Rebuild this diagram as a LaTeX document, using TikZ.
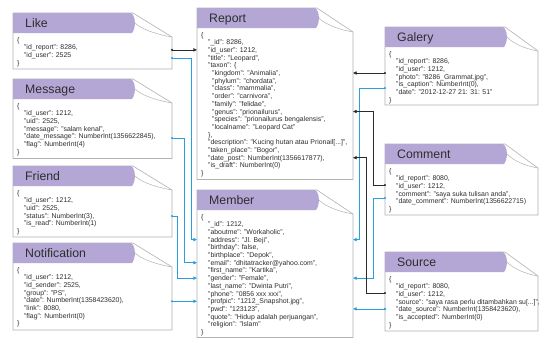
\documentclass[tikz,border=0pt]{standalone}
\usepackage{fontspec}
\setmainfont{Liberation Sans}
\usetikzlibrary{arrows.meta}
\definecolor{hdr}{HTML}{B4A7D6}
\definecolor{bord}{HTML}{B2B2B2}
\definecolor{lnk}{HTML}{2A9FDE}
\definecolor{blk}{HTML}{2B2B2B}
\definecolor{txt}{HTML}{2E2E2E}
\newcommand{\indA}{\hspace*{7pt}}
\newcommand{\indB}{\hspace*{11pt}}
% #1 name, #2 x, #3 top, #4 width, #5 bottom, #6 title, #7 body
\newcommand{\jbox}[7]{%
  \path[draw=bord, fill=white, line width=0.6pt] (#2,#3) -- ({#2+120},#3) -- ({#2+#4},{#3+24}) -- ({#2+#4},#5) -- (#2,#5) -- cycle;
  \path[fill=hdr] (#2,{#3+20}) -- (#2,#3) -- ({#2+118},#3) .. controls ({#2+123},{#3+3}) and ({#2+123},{#3+15}) .. ({#2+119},{#3+20}) -- cycle;
  \draw[bord, line width=0.5pt] ({#2+121},{#3+9}) .. controls ({#2+128},{#3+17}) and ({#2+#4-12},{#3+22}) .. ({#2+#4},{#3+24});
  \node[boxtitle] (#1-t) at ({#2+12},{#3+14.5}) {#6};
  \node[boxbody] (#1-b) at ({#2+4},{#3+23.8}) {#7};
}
\tikzset{
  boxtitle/.style={anchor=base west, inner sep=0pt, text=txt, font=\fontsize{12.3}{14}\selectfont},
  boxbody/.style={anchor=north west, inner sep=0pt, align=left, text=txt, font=\fontsize{6.9}{7.7}\selectfont},
  bl/.style={draw=lnk, line width=0.7pt},
  kl/.style={draw=blk, line width=0.7pt},
  arr/.style={-{Triangle[length=3.6pt,width=3.2pt]}},
}
\begin{document}
\begin{tikzpicture}[x=1pt,y=-1pt]
\useasboundingbox (0,0) rectangle (540,338);
\fill[white] (0,0) rectangle (540,338);

% left column
\jbox{like}{13}{13}{159}{69}{Like}{\{\\
\indA"id\_report": 8286,\\
\indA"id\_user": 2525\\
\}}
\jbox{msg}{13}{79}{159}{158.5}{Message}{\{\\
\indA"id\_user": 1212,\\
\indA"uid": 2525,\\
\indA"message": "salam kenal",\\
\indA"date\_message": NumberInt(1356622845),\\
\indA"flag": NumberInt(4)\\
\}}
\jbox{fr}{13}{166}{159}{237}{Friend}{\{\\
\indA"id\_user": 1212,\\
\indA"uid": 2525,\\
\indA"status": NumberInt(3),\\
\indA"is\_read": NumberInt(1)\\
\}}
\jbox{not}{13}{243}{159}{330}{Notification}{\{\\
\indA"id\_user": 1212,\\
\indA"id\_sender": 2525,\\
\indA"group": "PS",\\
\indA"date": NumberInt(1358423620),\\
\indA"link": 8080,\\
\indA"flag": NumberInt(0)\\
\}}

% middle column
\jbox{rep}{197}{8}{156}{179.5}{Report}{\{\\
\indA"\_id": 8286,\\
\indA"id\_user": 1212,\\
\indA"title": "Leopard",\\
\indA"taxon": \{\\
\indB"kingdom": "Animalia",\\
\indB"phylum": "chordata",\\
\indB"class": "mammalia",\\
\indB"order": "carnivora",\\
\indB"family": "felidae",\\
\indB"genus": "prionailurus",\\
\indB"species": "prionailurus bengalensis",\\
\indB"localname": "Leopard Cat"\\
\indA\},\\
\indA"description": "Kucing hutan atau Prionail[...]",\\
\indA"taken\_place": "Bogor",\\
\indA"date\_post": NumberInt(1356617877),\\
\indA"is\_draft": NumberInt(0)\\
\}}
\jbox{mem}{197}{190}{156}{337.5}{Member}{\{\\
\indA"\_id": 1212,\\
\indA"aboutme": "Workaholic",\\
\indA"address": "Jl. Beji",\\
\indA"birthday": false,\\
\indA"birthplace": "Depok",\\
\indA"email": "dhitatracker@yahoo.com",\\
\indA"first\_name": "Kartika",\\
\indA"gender": "Female",\\
\indA"last\_name": "Dwinta Putri",\\
\indA"phone": "0856 xxx xxx",\\
\indA"profpic": "1212\_Snapshot.jpg",\\
\indA"pwd": "123123",\\
\indA"quote": "Hidup adalah perjuangan",\\
\indA"religion": "Islam"\\
\}}

% right column
\jbox{gal}{385}{27}{153}{105}{Galery}{\{\\
\indA"id\_report": 8286,\\
\indA"id\_user": 1212,\\
\indA"photo": "8286\_Grammat.jpg",\\
\indA"is\_caption": NumberInt(0),\\
\indA"date": "2012-12-27 21: 31: 51"\\
\}}
\jbox{com}{385}{144}{153}{215}{Comment}{\{\\
\indA"id\_report": 8080,\\
\indA"id\_user": 1212,\\
\indA"comment": "saya suka tulisan anda",\\
\indA"date\_comment": NumberInt(1356622715)\\
\}}
\jbox{src}{385}{252}{153}{331}{Source}{\{\\
\indA"id\_report": 8080,\\
\indA"id\_user": 1212,\\
\indA"source": "saya rasa perlu ditambahkan su[...]",\\
\indA"date\_source": NumberInt(1358423620),\\
\indA"is\_accepted": NumberInt(0)\\
\}}

% connector end points
\coordinate (likeK) at (172,49.9);   \coordinate (repIdUser) at (197,49.9);
\coordinate (likeB) at (172,58);     \coordinate (memAddrL) at (197,239.6);
\coordinate (msgB) at (172,138);     \coordinate (memEmailL) at (197,262.7);
\coordinate (frB) at (172,216);      \coordinate (memGenderL) at (197,278.1);
\coordinate (notB) at (172,301.2);   \coordinate (memPicL) at (197,301.2);
\coordinate (galK) at (385,73);      \coordinate (repKingR) at (353,73);
\coordinate (galB) at (385,88);      \coordinate (memAddrR) at (353,239.6);
\coordinate (comK) at (385,185);     \coordinate (repGenusR) at (353,111.5);
\coordinate (comB) at (385,198);     \coordinate (memGenderR) at (353,278.1);
\coordinate (srcK) at (385,293);     \coordinate (repDateR) at (353,157.7);
\coordinate (srcB) at (385,308.9);   \coordinate (memPwdR) at (353,308.9);

% connectors
\draw[kl,arr] (likeK) -- (repIdUser);
\draw[bl,arr] (likeB) -- ++(19,0) |- (memAddrL);
\draw[bl,arr] (msgB) -- ++(12,0) |- (memEmailL);
\draw[bl,arr] (frB) -- ++(5,0) |- (memGenderL);
\draw[bl,arr] (notB) -- (memPicL);
\draw[kl,arr] (galK) -- (repKingR);
\draw[bl,arr] (galB) -- ++(-26,0) |- (memAddrR);
\draw[kl,arr] (comK) -- ++(-12,0) |- (repGenusR);
\draw[bl,arr] (comB) -- ++(-12,0) |- (memGenderR);
\draw[kl,arr] (srcK) -- ++(-19,0) |- (repDateR);
\draw[bl,arr] (srcB) -- (memPwdR);

\foreach \c in {likeK,galK,comK,srcK} \fill[blk] (\c) circle (1.2pt);
\foreach \c in {likeB,msgB,frB,notB,galB,comB,srcB} \fill[lnk] (\c) circle (1.2pt);
\end{tikzpicture}
\end{document}
